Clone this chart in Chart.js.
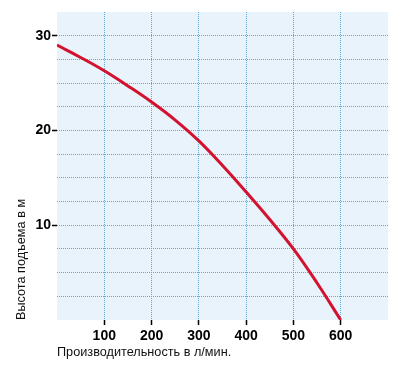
<!DOCTYPE html>
<html><head><meta charset="utf-8">
<script src="https://cdn.jsdelivr.net/npm/chart.js@4/dist/chart.umd.min.js"></script>
<style>html,body{margin:0;padding:0;background:#fff}#w{width:404px;height:376px}</style>
</head><body><div id="w"><canvas id="c"></canvas></div>
<script>
const flowValues = [0, 50, 100, 150, 200, 250, 300, 350, 400, 450, 500, 550, 600];
const headValues = [29.0, 27.7, 26.3, 24.7, 23.0, 21.1, 18.9, 16.3, 13.5, 10.6, 7.5, 3.9, 0];
const xTickLabels = [100, 200, 300, 400, 500, 600];
const yTickLabels = [10, 20, 30];
const xTitle = 'Производительность в л/мин.';
const yTitle = 'Высота подъема в м';

const bgPlugin = {
  id: 'bg',
  beforeDraw(chart) {
    const {ctx, chartArea: a} = chart;
    ctx.save();
    ctx.fillStyle = '#e8f3fb';
    ctx.fillRect(a.left, a.top, a.right - a.left, a.bottom - a.top);
    ctx.restore();
  }
};
const gridCol = '#5aa8dc';
new Chart(document.getElementById('c'), {
  type: 'line',
  data: {
    datasets: [{
      data: flowValues.map((x, i) => ({x, y: headValues[i]})),
      borderColor: '#d2122e',
      borderWidth: 3,
      pointRadius: 0,
      tension: 0.4,
      fill: false
    }]
  },
  options: {
    responsive: true,
    maintainAspectRatio: false,
    animation: false,
    layout: {padding: {top: 12, right: 16, left: 0, bottom: 0}},
    plugins: {legend: {display: false}, tooltip: {enabled: false}},
    scales: {
      x: {
        type: 'linear', min: 0, max: 700,
        afterFit(s) { s.height = 56; },
        afterBuildTicks(s) { s.ticks = [0,100,200,300,400,500,600,700].map(v => ({value: v})); },
        border: {display: false, dash: [1, 1]},
        grid: {
          color: c => (c.tick && c.tick.value > 0 && c.tick.value < 700) ? gridCol : 'rgba(0,0,0,0)',
          tickColor: c => (c.tick && xTickLabels.includes(c.tick.value)) ? '#000' : 'rgba(0,0,0,0)',
          tickLength: 5, tickWidth: 1.5, lineWidth: 1
        },
        ticks: {
          color: '#000', padding: 3, maxRotation: 0, autoSkip: false,
          font: {family: 'Liberation Sans', size: 14, weight: 'bold'},
          callback: v => xTickLabels.includes(v) ? String(v) : ''
        },
        title: {display: true, text: xTitle, align: 'start', color: '#111',
          font: {family: 'Liberation Sans', size: 12.7}, padding: {top: 0, bottom: 16}}
      },
      y: {
        type: 'linear', min: 0, max: 32.5,
        afterFit(s) { s.width = 57; },
        afterBuildTicks(s) { const t = []; for (let v = 0; v <= 32.5; v += 2.5) t.push({value: v}); s.ticks = t; },
        border: {display: false, dash: [1, 1]},
        grid: {
          color: c => (c.tick && c.tick.value > 0 && c.tick.value < 32.5) ? gridCol : 'rgba(0,0,0,0)',
          tickColor: c => (c.tick && yTickLabels.includes(c.tick.value)) ? '#000' : 'rgba(0,0,0,0)',
          tickLength: 5, tickWidth: 1.5, lineWidth: 1
        },
        ticks: {
          color: '#000', padding: 1, autoSkip: false,
          font: {family: 'Liberation Sans', size: 14, weight: 'bold'},
          callback: v => yTickLabels.includes(v) ? String(v) : ''
        },
        title: {display: true, text: yTitle, align: 'start', color: '#111',
          font: {family: 'Liberation Sans', size: 12.7}, padding: {top: 14, bottom: 0}}
      }
    }
  },
  plugins: [bgPlugin]
});
</script></body></html>
